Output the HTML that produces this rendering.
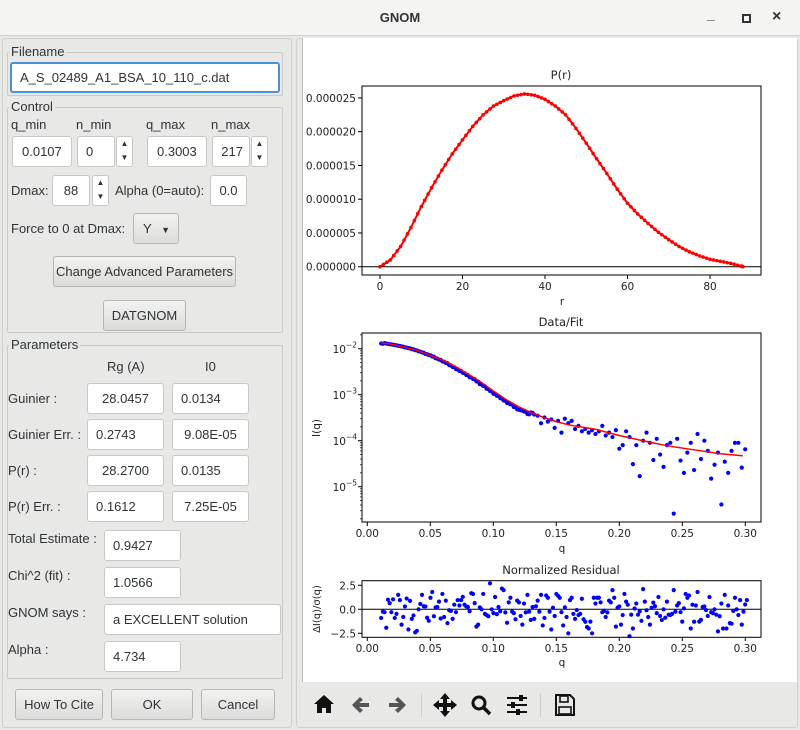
<!DOCTYPE html>
<html><head><meta charset="utf-8">
<style>
*{box-sizing:border-box}
body{margin:0;width:800px;height:730px;overflow:hidden;background:#e8e8e7;font-family:"Liberation Sans",sans-serif;font-size:13px;color:#2e3436;position:relative}
.a{position:absolute}
.inp{position:absolute;background:#fff;border:1px solid #c8c8c5;border-radius:3px;height:31px;line-height:29px;padding:0 8px;font-size:13px;color:#2e3436;white-space:nowrap}
.grp{position:absolute;border:1px solid #c9c9c6;border-radius:2px}
.gt{position:absolute;background:#e8e8e7;padding:0 2px;font-size:13px;line-height:14px}
.btn{position:absolute;border:1px solid #b6b6b3;border-radius:3px;background:linear-gradient(#f2f2f1,#dcdcda);text-align:center;height:31px;line-height:29px;font-size:13px;white-space:nowrap}
.spin{position:absolute;width:17px;height:31px;border:1px solid #c8c8c5;border-radius:3px;background:#fff;font-size:8px;text-align:center;line-height:14px}
.lbl{position:absolute;font-size:13px;line-height:15px;white-space:nowrap}
</style></head><body>
<div class="a" style="left:0;top:0;width:800px;height:36px;background:#f4f4f3;border-bottom:1px solid #d0d0ce"></div>
<div class="a" style="left:0;top:10px;width:800px;text-align:center;font-weight:bold;font-size:13px">GNOM</div>
<div class="a" style="left:707px;top:6px;font-size:14px;font-weight:bold">_</div>
<div class="a" style="left:742px;top:14px;width:9px;height:9px;border:2px solid #2e3436"></div>
<div class="a" style="left:772px;top:8px;font-size:16px;font-weight:bold">×</div>

<div class="a" style="left:2px;top:38px;width:290px;height:690px;border:1px solid #cfcfcc;border-radius:3px"></div>

<div class="grp" style="left:7px;top:52px;width:276px;height:44px"></div>
<div class="gt" style="left:9px;top:45px">Filename</div>
<div class="inp" style="left:10px;top:62px;width:270px;border:2px solid #4a90d9;line-height:27px">A_S_02489_A1_BSA_10_110_c.dat</div>

<div class="grp" style="left:7px;top:107px;width:276px;height:226px"></div>
<div class="gt" style="left:9px;top:100px">Control</div>
<div class="lbl" style="left:11px;top:117px">q_min</div>
<div class="lbl" style="left:76px;top:117px">n_min</div>
<div class="lbl" style="left:146px;top:117px">q_max</div>
<div class="lbl" style="left:211px;top:117px">n_max</div>
<div class="inp" style="left:12px;top:136px;width:60px;padding:0 0 0 9px">0.0107</div>
<div class="inp" style="left:77px;top:136px;width:38px">0</div>
<div class="spin" style="left:116px;top:136px">▲<br>▼</div>
<div class="inp" style="left:147px;top:136px;width:60px;padding:0 0 0 9px">0.3003</div>
<div class="inp" style="left:212px;top:136px;width:38px;text-align:right;padding:0 6px">217</div>
<div class="spin" style="left:251px;top:136px">▲<br>▼</div>
<div class="lbl" style="left:11px;top:183px">Dmax:</div>
<div class="inp" style="left:52px;top:175px;width:38px;text-align:center">88</div>
<div class="spin" style="left:92px;top:175px">▲<br>▼</div>
<div class="lbl" style="left:115px;top:183px">Alpha (0=auto):</div>
<div class="inp" style="left:210px;top:175px;width:37px;text-align:center;padding:0">0.0</div>
<div class="lbl" style="left:11px;top:221px">Force to 0 at Dmax:</div>
<div class="btn" style="left:133px;top:213px;width:46px;text-align:left;padding-left:9px">Y <span style="font-size:9px;margin-left:6px">▼</span></div>
<div class="btn" style="left:53px;top:256px;width:183px">Change Advanced Parameters</div>
<div class="btn" style="left:103px;top:300px;width:83px">DATGNOM</div>

<div class="grp" style="left:7px;top:345px;width:276px;height:334px"></div>
<div class="gt" style="left:9px;top:338px">Parameters</div>
<div class="lbl" style="left:107px;top:359px">Rg (A)</div>
<div class="lbl" style="left:205px;top:359px">I0</div>
<div class="lbl" style="left:8px;top:391px">Guinier :</div>
<div class="inp" style="left:87px;top:383px;width:77px;text-align:center">28.0457</div>
<div class="inp" style="left:172px;top:383px;width:77px">0.0134</div>
<div class="lbl" style="left:8px;top:427px">Guinier Err. :</div>
<div class="inp" style="left:87px;top:419px;width:77px">0.2743</div>
<div class="inp" style="left:172px;top:419px;width:77px;text-align:center">9.08E-05</div>
<div class="lbl" style="left:8px;top:463px">P(r) :</div>
<div class="inp" style="left:87px;top:455px;width:77px;text-align:center">28.2700</div>
<div class="inp" style="left:172px;top:455px;width:77px">0.0135</div>
<div class="lbl" style="left:8px;top:499px">P(r) Err. :</div>
<div class="inp" style="left:87px;top:491px;width:77px">0.1612</div>
<div class="inp" style="left:172px;top:491px;width:77px;text-align:center">7.25E-05</div>
<div class="lbl" style="left:8px;top:531px">Total Estimate :</div>
<div class="inp" style="left:104px;top:530px;width:77px">0.9427</div>
<div class="lbl" style="left:8px;top:568px">Chi^2 (fit) :</div>
<div class="inp" style="left:104px;top:567px;width:77px">1.0566</div>
<div class="lbl" style="left:8px;top:605px">GNOM says :</div>
<div class="inp" style="left:104px;top:604px;width:177px">a EXCELLENT solution</div>
<div class="lbl" style="left:8px;top:642px">Alpha :</div>
<div class="inp" style="left:104px;top:641px;width:77px">4.734</div>

<div class="btn" style="left:15px;top:689px;width:88px">How To Cite</div>
<div class="btn" style="left:111px;top:689px;width:82px">OK</div>
<div class="btn" style="left:201px;top:689px;width:74px">Cancel</div>

<div class="a" style="left:296px;top:38px;width:502px;height:690px;border:1px solid #cfcfcc;border-radius:3px"></div>
<div class="a" style="left:302px;top:38px;width:495px;height:645px;background:#fff;border-left:1px solid #bbb"></div>
<div class="a" style="left:302px;top:682px;width:495px;height:45px;background:#e8e8e7"></div>

<svg class="a" style="left:0;top:0" width="800" height="730" font-family="DejaVu Sans, sans-serif" fill="#222">
<g id="pr"></g>
<g id="fit"></g>
<g id="res"></g>
<g id="tb" fill="#111" stroke="none">
 <path d="M314 704 L324 695 L334 704 L331 704 L331 713 L326 713 L326 708 L322 708 L322 713 L317 713 L317 704 Z"/>
 <path d="M352 705 L360 697 L363 700 L359 703 L369 703 L369 707 L359 707 L363 710 L360 713 Z" fill="#555"/>
 <path d="M406 705 L398 697 L395 700 L399 703 L389 703 L389 707 L399 707 L395 710 L398 713 Z" fill="#555"/>
 <rect x="421" y="693" width="1" height="24" fill="#ccc"/>
 <path d="M445 693 L450 699 L447 699 L447 703 L451 703 L451 700 L457 705 L451 710 L451 707 L447 707 L447 711 L450 711 L445 717 L440 711 L443 711 L443 707 L439 707 L439 710 L433 705 L439 700 L439 703 L443 703 L443 699 L440 699 Z"/>
 <circle cx="479" cy="703" r="6" fill="none" stroke="#111" stroke-width="3"/>
 <path d="M483 707 L490 714" stroke="#111" stroke-width="3.5"/>
 <g><rect x="507" y="697" width="20" height="2"/><rect x="507" y="704" width="20" height="2"/><rect x="507" y="711" width="20" height="2"/><rect x="519" y="695" width="4" height="6"/><rect x="511" y="702" width="4" height="6"/><rect x="516" y="709" width="4" height="6"/></g>
 <rect x="540" y="693" width="1" height="24" fill="#ccc"/>
 <g><path d="M556 695 L570 695 L574 699 L574 715 L556 715 Z" fill="none" stroke="#111" stroke-width="2"/><rect x="560" y="696" width="8" height="6" fill="none" stroke="#111" stroke-width="1.6"/><rect x="559" y="707" width="12" height="7" fill="none" stroke="#111" stroke-width="1.6"/></g>
</g>
</svg>
<script>
// ---- P(r) data ----
const prR=[0,2.5,5,7.5,10,12.5,15,17.5,20,22.5,25,27.5,30,32.5,35,37.5,40,42.5,45,47.5,50,52.5,55,57.5,60,62.5,65,67.5,70,72.5,75,77.5,80,82.5,85,87.5,88];
const prVal=[0,1.0e-6,3.0e-6,5.8e-6,8.9e-6,11.7e-6,14.3e-6,16.7e-6,18.8e-6,20.8e-6,22.5e-6,23.8e-6,24.6e-6,25.3e-6,25.6e-6,25.4e-6,24.8e-6,23.8e-6,22.5e-6,20.5e-6,18.3e-6,16.0e-6,13.8e-6,11.5e-6,9.4e-6,7.8e-6,6.4e-6,5.1e-6,4.0e-6,3.0e-6,2.2e-6,1.6e-6,1.1e-6,0.8e-6,0.5e-6,0.1e-6,0];
const prXTicks=[0,20,40,60,80];
const prYTicks=["0.000000","0.000005","0.000010","0.000015","0.000020","0.000025"];
// ---- Data/Fit ----
const qStart=0.011, qStep=0.0027;
const dataI=[1.30e-2,1.32e-2,1.27e-2,1.24e-2,1.20e-2,1.16e-2,1.12e-2,1.07e-2,1.03e-2,9.8e-3,9.3e-3,8.8e-3,8.3e-3,7.7e-3,7.3e-3,6.8e-3,6.2e-3,5.8e-3,5.3e-3,4.9e-3,4.4e-3,4.0e-3,3.6e-3,3.3e-3,3.0e-3,2.7e-3,2.4e-3,2.2e-3,1.95e-3,1.7e-3,1.55e-3,1.35e-3,1.2e-3,1.05e-3,9.5e-4,8.4e-4,7.5e-4,6.6e-4,6.2e-4,5.4e-4,4.8e-4,4.6e-4,4.3e-4,3.8e-4,4.1e-4,3.7e-4,3.5e-4,2.4e-4,3.2e-4,2.6e-4,2.9e-4,1.9e-4,2.7e-4,1.5e-4,3.0e-4,2.4e-4,2.7e-4,1.8e-4,2.1e-4,1.6e-4,1.8e-4,1.5e-4,1.7e-4,1.4e-4,1.6e-4,2.1e-4,1.3e-4,1.5e-4,1.2e-4,1.7e-4,6.7e-5,8.0e-5,1.6e-4,1.2e-4,3.1e-5,8.0e-5,1.7e-5,1.0e-4,1.5e-4,9.0e-5,3.8e-5,1.1e-4,5.0e-5,2.7e-5,8.0e-5,9.0e-5,2.6e-6,1.1e-4,3.7e-5,2.0e-5,5.5e-5,9.0e-5,2.3e-5,1.4e-4,4.0e-5,1.0e-4,6.0e-5,1.5e-5,3.0e-5,5.5e-5,4.1e-6,3.5e-5,2.0e-5,6.0e-5,9.0e-5,9.0e-5,2.6e-5,6.5e-5];
const fitQ=[0.011,0.02,0.03,0.04,0.05,0.06,0.07,0.08,0.09,0.10,0.11,0.12,0.13,0.14,0.15,0.16,0.18,0.20,0.22,0.24,0.26,0.28,0.298];
const fitI=[0.0135,0.0124,0.0107,0.0091,0.0072,0.0056,0.0041,0.0028,0.0019,0.0012,0.00079,0.00055,0.00041,0.00032,0.00026,0.00022,0.00018,0.00013,0.000098,0.000076,0.000063,0.000052,0.000047];
const qTicks=["0.00","0.05","0.10","0.15","0.20","0.25","0.30"];
const logTicks=[-2,-3,-4,-5];
// ---- Residual ----
const resid=[-0.9,-0.3,1.0,-0.3,-0.9,1.5,-1.6,0.3,-2.1,-1.0,-2.4,0.0,1.5,0.3,-1.2,1.8,0.2,0.8,1.6,0.9,-0.1,-1.0,-0.3,0.4,1.3,0.3,-0.2,1.6,-1.8,0.2,1.6,-0.6,2.7,-0.4,-0.5,-0.2,2.0,-1.4,1.2,-0.4,0.9,-0.7,0.6,1.5,-1.1,-1.0,0.9,1.5,-0.9,1.2,-2.1,-0.7,1.4,-0.3,0.2,-2.5,1.2,-1.0,-0.6,1.1,-1.3,-2.0,-2.5,0.6,1.2,-0.3,-0.8,0.9,2.0,-1.8,0.3,-0.6,0.8,-2.8,-2.0,0.6,-0.2,2.1,-0.1,-1.6,0.7,-0.4,-0.7,0.0,0.8,-0.6,2.0,0.4,-0.3,0.1,1.2,-2.0,-1.3,1.8,-1.1,0.3,-0.7,-0.3,0.0,-2.3,0.6,1.5,0.4,-1.5,1.2,-0.6,-1.6,0.5];
const resTicks=[2.5,0.0,-2.5];

const NS="http://www.w3.org/2000/svg";
function mk(parent,tag,attrs,text){const e=document.createElementNS(NS,tag);for(const k in attrs)e.setAttribute(k,attrs[k]);if(text!==undefined)e.textContent=text;parent.appendChild(e);return e;}
const TF=10.5, TT=11.5;

// P(r) axes
const prX=r=>380+r*4.125;
const prY=v=>266.7-v*1e6*6.75;
(function(){
 const g=document.getElementById('pr');
 let t=mk(g,'text',{x:561,y:79,'text-anchor':'middle','font-size':TT},'P(r)');
 
 
 mk(g,'line',{x1:362,x2:761,y1:266.7,y2:266.7,stroke:'#000','stroke-width':1});
 prXTicks.forEach(v=>{const x=prX(v);mk(g,'line',{x1:x,x2:x,y1:275,y2:279,stroke:'#000'});
  const l=mk(g,'text',{x:x,y:290,'text-anchor':'middle','font-size':TF},String(v));
  
  });
 prYTicks.forEach((s,i)=>{const y=prY(i*5e-6);mk(g,'line',{x1:358,x2:362,y1:y,y2:y,stroke:'#000'});
  const l=mk(g,'text',{x:356,y:y+4,'text-anchor':'end','font-size':TF},s);
  
  });
 const xl=mk(g,'text',{x:562,y:305,'text-anchor':'middle','font-size':TF},'r');
 
 
 const pts=prR.map((r,i)=>prX(r)+','+prY(prVal[i])).join(' ');
 const pl=mk(g,'polyline',{points:pts,fill:'none',stroke:'#f00','stroke-width':2});
 
 
 prR.forEach((r,i)=>{
  for(let k=0;k<3;k++){
   if(i===prR.length-1&&k>0)break;
   const j=Math.min(i+1,prR.length-1),f=k/3;
   const c=mk(g,'circle',{cx:prX(r+(prR[j]-r)*f),cy:prY(prVal[i]+(prVal[j]-prVal[i])*f),r:1.8,fill:'#f00'});
   
   
  }});
 mk(g,'rect',{x:362,y:86,width:399,height:189,fill:'none',stroke:'#000','stroke-width':1});
})();

// Data/Fit
const fx=q=>367.3+q*1260;
const fy=I=>348.7-(Math.log10(I)+2)*46;
(function(){
 const g=document.getElementById('fit');
 const t=mk(g,'text',{x:561,y:326,'text-anchor':'middle','font-size':TT},'Data/Fit');
 
 
 qTicks.forEach(s=>{const x=fx(parseFloat(s));mk(g,'line',{x1:x,x2:x,y1:522,y2:526,stroke:'#000'});
  const l=mk(g,'text',{x:x,y:537,'text-anchor':'middle','font-size':TF},s);
  
  });
 for(let d=-6;d<=-2;d++){for(let m=1;m<10;m++){const v=m*Math.pow(10,d);const y=fy(v);if(y<333||y>522)continue;
  mk(g,'line',{x1:m==1?358:360,x2:362,y1:y,y2:y,stroke:'#000','stroke-width':m==1?1:0.7});}}
 logTicks.forEach(d=>{const y=fy(Math.pow(10,d));
  const l=mk(g,'text',{x:346,y:y+4.5,'text-anchor':'end','font-size':TF},'10');
  
  
  mk(g,'text',{x:346,y:y-1,'font-size':7.5},'\u2212'+(-d));});
 const yl=mk(g,'text',{x:0,y:0,'text-anchor':'middle','font-size':TF,transform:'translate(320,428) rotate(-90)'},'I(q)');
 
 
 const xl=mk(g,'text',{x:562,y:552,'text-anchor':'middle','font-size':TF},'q');
 
 
 dataI.forEach((v,i)=>{const q=qStart+i*qStep;const c=mk(g,'circle',{cx:fx(q),cy:fy(v),r:2.1,fill:'#00f'});
  
  
  if(i<45){const c2=mk(g,'circle',{cx:fx(q+qStep/2),cy:fy(v*0.985),r:2.1,fill:'#00f'});
   
   }});
 const pl=mk(g,'polyline',{points:fitQ.map((q,i)=>fx(q)+','+fy(fitI[i])).join(' '),fill:'none',stroke:'#f00','stroke-width':1.5});
 
 
 mk(g,'rect',{x:362,y:333,width:399,height:189,fill:'none',stroke:'#000'});
})();

// Residual
const ry=v=>609.3-v*9.6;
(function(){
 const g=document.getElementById('res');
 const t=mk(g,'text',{x:561,y:574,'text-anchor':'middle','font-size':TT},'Normalized Residual');
 
 
 mk(g,'line',{x1:362,x2:761,y1:ry(0),y2:ry(0),stroke:'#000'});
 resTicks.forEach(v=>{const y=ry(v);mk(g,'line',{x1:358,x2:362,y1:y,y2:y,stroke:'#000'});
  const l=mk(g,'text',{x:356,y:y+4,'text-anchor':'end','font-size':TF},v.toFixed(1).replace('-','\u2212'));
  
  });
 qTicks.forEach(s=>{const x=fx(parseFloat(s));mk(g,'line',{x1:x,x2:x,y1:637.3,y2:641,stroke:'#000'});
  const l=mk(g,'text',{x:x,y:652,'text-anchor':'middle','font-size':TF},s);
  
  });
 const xl=mk(g,'text',{x:562,y:666,'text-anchor':'middle','font-size':TF},'q');
 
 
 const yl=mk(g,'text',{x:0,y:0,'text-anchor':'middle','font-size':10,transform:'translate(320,609) rotate(-90)'},'\u0394I(q)/\u03c3(q)');
 
 
 resid.forEach((v,i)=>{const c=mk(g,'circle',{cx:fx(qStart+i*qStep),cy:ry(v),r:2.1,fill:'#00f'});
  
  
  const v2=resid[(i*7+3)%resid.length]*0.8;
  const c2=mk(g,'circle',{cx:fx(qStart+(i+0.5)*qStep),cy:ry(v2),r:2.1,fill:'#00f'});
  
  });
 mk(g,'rect',{x:362,y:580.7,width:399,height:56.6,fill:'none',stroke:'#000'});
})();
</script>
</body></html>
